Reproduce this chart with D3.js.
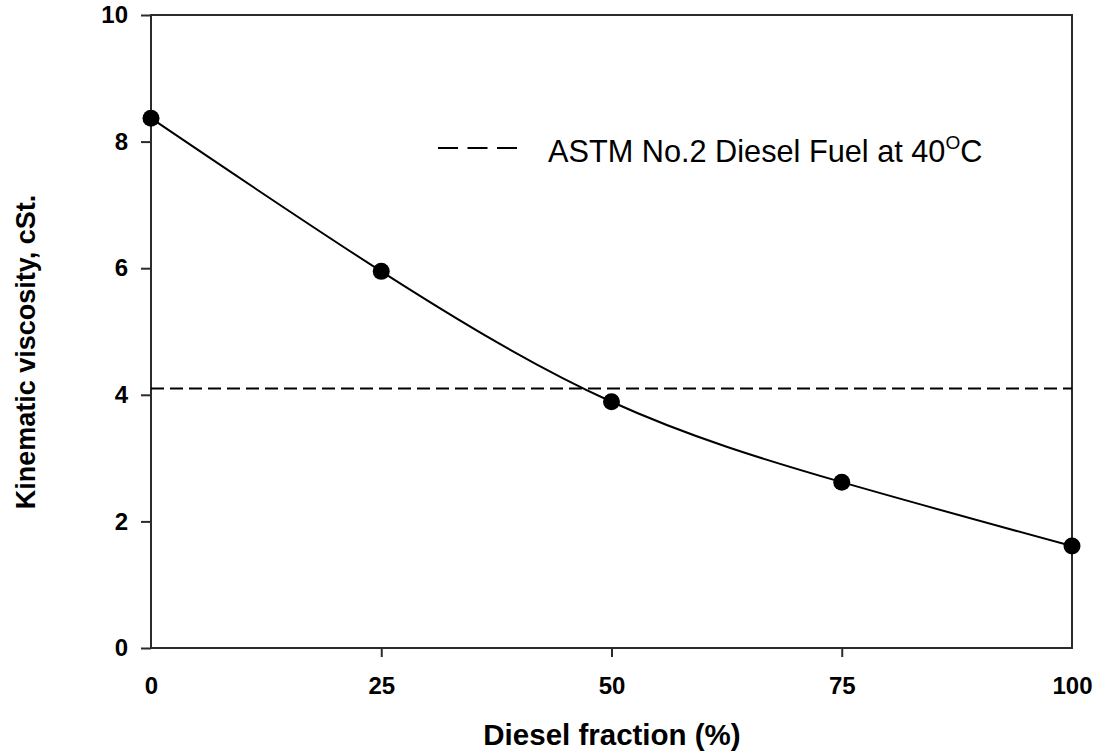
<!DOCTYPE html>
<html>
<head>
<meta charset="utf-8">
<script src="https://cdn.jsdelivr.net/npm/d3@7"></script>
<style>
  html, body { margin: 0; padding: 0; background: #fff; }
  svg { display: block; }
  text { font-family: "Liberation Sans", Arial, sans-serif; fill: #000; }
</style>
</head>
<body>
<svg id="chart" width="1099" height="755"></svg>
<script>
// Diesel fraction in the blend (%) and measured kinematic viscosity (cSt)
const dieselFraction = [0, 25, 50, 75, 100];
const viscosity = [8.37, 5.95, 3.89, 2.62, 1.61];
// ASTM No.2 diesel fuel limit at 40 °C
const astmLimit = 4.1;
const xTicks = [0, 25, 50, 75, 100];
const yTicks = [0, 2, 4, 6, 8, 10];

const svg = d3.select("#chart");
const plotLeft = 151, plotRight = 1072, plotTop = 15, plotBottom = 648;

const x = d3.scaleLinear().domain([0, 100]).range([plotLeft, plotRight]);
const y = d3.scaleLinear().domain([0, 10]).range([plotBottom, plotTop]);

// y axis
const yAxis = svg.append("g")
  .attr("transform", `translate(${plotLeft},0)`)
  .call(d3.axisLeft(y).tickValues(yTicks).tickSize(10).tickPadding(13).tickFormat(d3.format("d")));
yAxis.select(".domain").remove();
yAxis.selectAll(".tick line").attr("stroke", "#2b2b2b").attr("stroke-width", 2);
yAxis.selectAll(".tick text")
  .style("font-family", "'Liberation Sans', Arial, sans-serif")
  .style("font-size", "24px").style("font-weight", "bold").attr("fill", "#000");

// x axis
const xAxis = svg.append("g")
  .attr("transform", `translate(0,${plotBottom})`)
  .call(d3.axisBottom(x).tickValues(xTicks).tickSize(9).tickPadding(20).tickFormat(d3.format("d")));
xAxis.select(".domain").remove();
xAxis.selectAll(".tick line")
  .attr("stroke", "#2b2b2b").attr("stroke-width", 2)
  .attr("display", d => (d === 0 || d === 100) ? "none" : null);
xAxis.selectAll(".tick text")
  .style("font-family", "'Liberation Sans', Arial, sans-serif")
  .style("font-size", "24px").style("font-weight", "bold").attr("fill", "#000");

// plot frame
svg.append("rect")
  .attr("x", plotLeft).attr("y", plotTop)
  .attr("width", plotRight - plotLeft).attr("height", plotBottom - plotTop)
  .attr("fill", "none").attr("stroke", "#2b2b2b").attr("stroke-width", 2);

// ASTM limit line
svg.append("line")
  .attr("x1", x(0)).attr("x2", x(100))
  .attr("y1", y(astmLimit)).attr("y2", y(astmLimit))
  .attr("stroke", "#000").attr("stroke-width", 2)
  .attr("stroke-dasharray", "13,6");

// fitted curve
const pts = dieselFraction.map((d, i) => [d, viscosity[i]]);
svg.append("path")
  .datum(pts)
  .attr("fill", "none").attr("stroke", "#000").attr("stroke-width", 2)
  .attr("d", d3.line().x(d => x(d[0])).y(d => y(d[1])).curve(d3.curveNatural));

// data points
svg.append("g").selectAll("circle")
  .data(pts).join("circle")
  .attr("cx", d => x(d[0])).attr("cy", d => y(d[1]))
  .attr("r", 8.5).attr("fill", "#000");

// legend
svg.append("line")
  .attr("x1", 438).attr("x2", 517).attr("y1", 148).attr("y2", 148)
  .attr("stroke", "#000").attr("stroke-width", 2)
  .attr("stroke-dasharray", "20,9.5");
const leg = svg.append("text")
  .attr("x", 548).attr("y", 162)
  .style("font-size", "30.7px");
leg.append("tspan").text("ASTM No.2 Diesel Fuel at 40");
leg.append("tspan").attr("dy", -13).style("font-size", "19px").text("O");
leg.append("tspan").attr("dy", 13).text("C");

// axis titles
svg.append("text")
  .attr("x", 612).attr("y", 745)
  .attr("text-anchor", "middle")
  .style("font-size", "29.5px").style("font-weight", "bold")
  .text("Diesel fraction (%)");
svg.append("text")
  .attr("transform", "translate(35,352) rotate(-90)")
  .attr("text-anchor", "middle")
  .style("font-size", "27px").style("font-weight", "bold")
  .text("Kinematic viscosity, cSt.");
</script>
</body>
</html>
